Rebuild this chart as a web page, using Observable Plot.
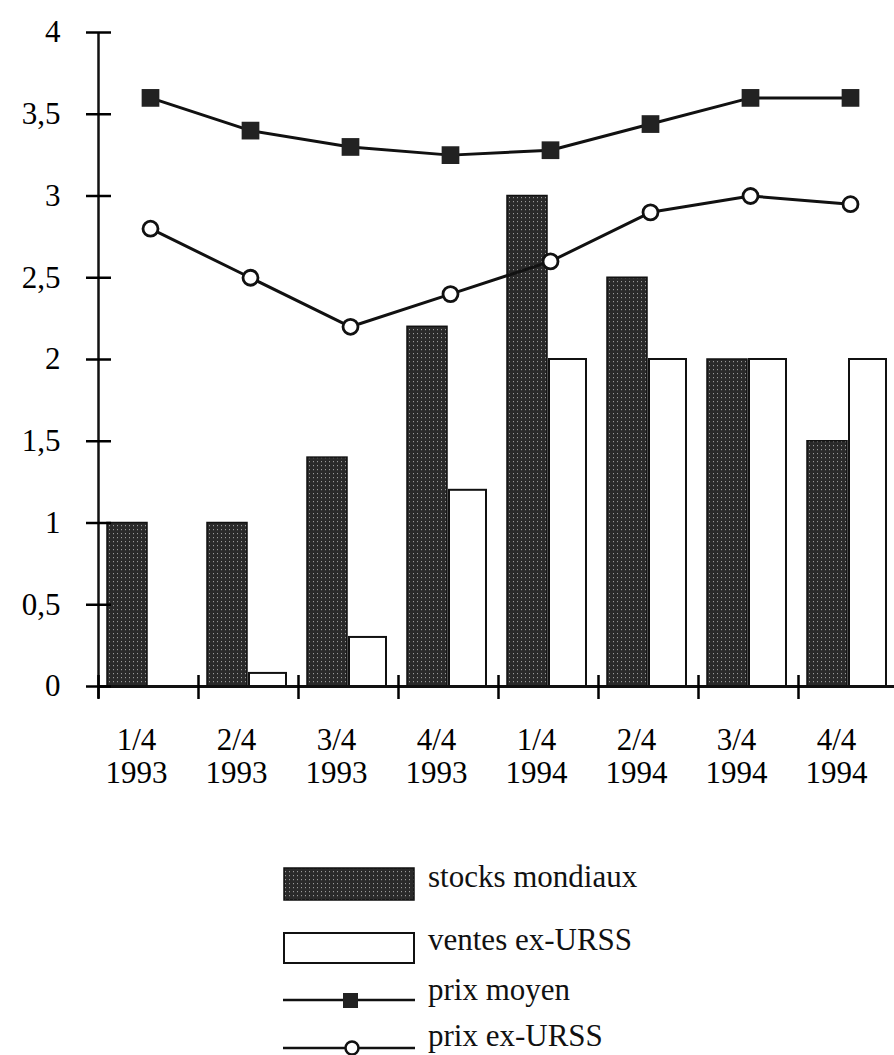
<!DOCTYPE html>
<html><head><meta charset="utf-8">
<script src="https://cdn.jsdelivr.net/npm/d3@7"></script>
<script src="https://cdn.jsdelivr.net/npm/@observablehq/plot@0.6"></script>
<style>
html,body{margin:0;padding:0;background:#fff;}
#chart{width:894px;}
svg{display:block;}
</style></head><body><div id="chart"></div><script>
const quarters = ["1/4","2/4","3/4","4/4","1/4","2/4","3/4","4/4"];
const years = ["1993","1993","1993","1993","1994","1994","1994","1994"];
const stocksMondiaux = [1, 1, 1.4, 2.2, 3, 2.5, 2, 1.5];
const ventesExURSS = [0, 0.08, 0.3, 1.2, 2, 2, 2, 2];
const prixMoyen = [3.6, 3.4, 3.3, 3.25, 3.28, 3.44, 3.6, 3.6];
const prixExURSS = [2.8, 2.5, 2.2, 2.4, 2.6, 2.9, 3, 2.95];
const yTicks = [0, 0.5, 1, 1.5, 2, 2.5, 3, 3.5, 4];
const yTickLabels = ["0", "0,5", "1", "1,5", "2", "2,5", "3", "3,5", "4"];
const legendLabels = ["stocks mondiaux", "ventes ex-URSS", "prix moyen", "prix ex-URSS"];

const categories = quarters.map((q, i) => q + "\n" + years[i]);
const rows = categories.map((c, i) => ({cat: c, stocks: stocksMondiaux[i], ventes: ventesExURSS[i], moyen: prixMoyen[i], ex: prixExURSS[i]}));

const font = "'Liberation Serif', 'Times New Roman', serif";
const plot = Plot.plot({
  width: 894, height: 830,
  marginLeft: 98, marginRight: -4, marginTop: 32, marginBottom: 144,
  style: {fontFamily: font, fontSize: "31px", color: "#000", background: "#fff", overflow: "visible"},
  x: {type: "band", domain: categories, padding: 0, label: null},
  y: {domain: [0, 4], label: null},
  marks: [
    Plot.barY(rows, {x: "cat", y: "stocks", fill: "url(#stipple)", stroke: "#111", strokeWidth: 1.5, insetLeft: 9, insetRight: 51}),
    Plot.barY(rows.filter(d => d.ventes > 0), {x: "cat", y: "ventes", fill: "#fff", stroke: "#111", strokeWidth: 2, insetLeft: 51, insetRight: 12}),
    Plot.ruleY([0], {stroke: "#111", strokeWidth: 3}),
    Plot.ruleX([categories[0]], {x: d => d, dx: -50, insetBottom: -12, stroke: "#111", strokeWidth: 2.5}),
    Plot.axisX({tickSize: 24, dy: -11, dx: -50, tickFormat: () => "", strokeWidth: 2.5, label: null}),
    Plot.axisX({tickSize: 0, tickPadding: 40, dx: -12, fontSize: 31, lineHeight: 1.06, tickFormat: d => d, label: null}),
    Plot.axisY({ticks: yTicks, tickSize: 25, dx: 13, tickFormat: () => "", strokeWidth: 2.5, label: null}),
    Plot.axisY({ticks: yTicks, tickSize: 0, tickPadding: 38, fontSize: 31, tickFormat: d => yTickLabels[yTicks.indexOf(d)], label: null}),
    Plot.line(rows, {x: "cat", y: "moyen", stroke: "#111", strokeWidth: 3, dx: 2}),
    Plot.dot(rows, {x: "cat", y: "moyen", symbol: "square", r: 10, fill: "#222", stroke: "none", dx: 2}),
    Plot.line(rows, {x: "cat", y: "ex", stroke: "#111", strokeWidth: 3, dx: 2}),
    Plot.dot(rows, {x: "cat", y: "ex", r: 7.5, fill: "#fff", stroke: "#111", strokeWidth: 2.8, dx: 2})
  ]
});

const SVGNS = "http://www.w3.org/2000/svg";
function makePattern(id) {
  const defs = document.createElementNS(SVGNS, "defs");
  const pat = document.createElementNS(SVGNS, "pattern");
  pat.setAttribute("id", id);
  pat.setAttribute("width", "4");
  pat.setAttribute("height", "4");
  pat.setAttribute("patternUnits", "userSpaceOnUse");
  const bg = document.createElementNS(SVGNS, "rect");
  bg.setAttribute("width", "4"); bg.setAttribute("height", "4"); bg.setAttribute("fill", "#2a2a2a");
  const dot = document.createElementNS(SVGNS, "rect");
  dot.setAttribute("x", "1"); dot.setAttribute("y", "1"); dot.setAttribute("width", "1"); dot.setAttribute("height", "1.2"); dot.setAttribute("fill", "#9a9a9a");
  pat.appendChild(bg); pat.appendChild(dot); defs.appendChild(pat);
  return defs;
}
plot.insertBefore(makePattern("stipple"), plot.firstChild);
document.getElementById("chart").appendChild(plot);

// Legend (below the chart SVG)
const legend = d3.create("svg")
  .attr("width", 894).attr("height", 225)
  .style("display", "block")
  .style("font-family", font).style("font-size", "31px");
legend.node().appendChild(makePattern("stipple2"));
legend.append("rect").attr("x", 284).attr("y", 38).attr("width", 130).attr("height", 32)
  .attr("fill", "url(#stipple2)").attr("stroke", "#111").attr("stroke-width", 1.5);
legend.append("rect").attr("x", 284).attr("y", 103).attr("width", 130).attr("height", 30)
  .attr("fill", "#fff").attr("stroke", "#111").attr("stroke-width", 2);
legend.append("line").attr("x1", 283).attr("x2", 415).attr("y1", 170).attr("y2", 170)
  .attr("stroke", "#111").attr("stroke-width", 2.5);
legend.append("rect").attr("x", 343).attr("y", 163).attr("width", 15).attr("height", 15).attr("fill", "#222");
legend.append("line").attr("x1", 283).attr("x2", 415).attr("y1", 218).attr("y2", 218)
  .attr("stroke", "#111").attr("stroke-width", 2.5);
legend.append("circle").attr("cx", 352).attr("cy", 218).attr("r", 6.5)
  .attr("fill", "#fff").attr("stroke", "#111").attr("stroke-width", 2.5);
const baselines = [57, 120, 170, 216];
legendLabels.forEach((t, i) => {
  legend.append("text").attr("x", 428).attr("y", baselines[i]).attr("fill", "#111").text(t);
});
document.getElementById("chart").appendChild(legend.node());
</script></body></html>
